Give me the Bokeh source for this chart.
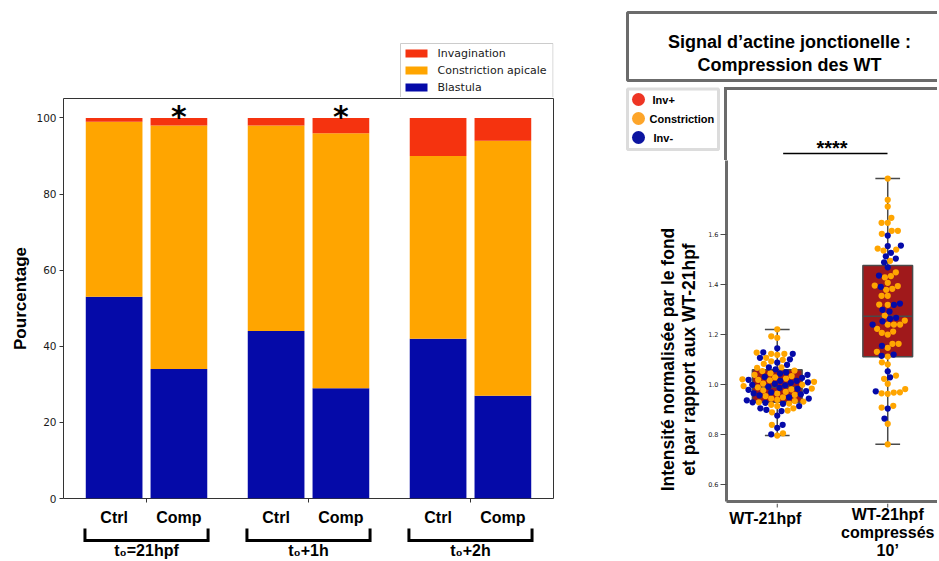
import math
from bokeh.plotting import figure
from bokeh.models import (Range1d, FixedTicker, PrintfTickFormatter, ColumnDataSource)
from bokeh.layouts import row, column
from bokeh.embed import file_html
from bokeh.resources import INLINE
from bokeh.core.properties import value

# ---------------- left panel data (stacked bars, %) ----------------
groups = ["t₀=21hpf", "t₀+1h", "t₀+2h"]
conditions = ["Ctrl", "Comp"]
series_names = ["Invagination", "Constriction apicale", "Blastula"]
blastula = [53, 34, 44, 29, 42, 27]
constriction = [46, 64, 54, 67, 48, 67]
invagination = [1, 2, 2, 4, 10, 6]
significance = ["", "*", "", "*", "", ""]
ytick_bars = [0, 20, 40, 60, 80, 100]

# ---------------- right panel data (box + swarm) ----------------
title_lines = ["Signal d’actine jonctionelle :", "Compression des WT"]
yaxis_lines = ["Intensité normalisée par le fond", "et par rapport aux WT-21hpf"]
box_categories = ["WT-21hpf", "WT-21hpf\ncompressés\n10’"]
legend_right_labels = ["Inv+", "Constriction", "Inv-"]
ytick_right = [0.6, 0.8, 1.0, 1.2, 1.4, 1.6]
sig_right = "****"

wt_orange = [1.222, 1.194, 1.188, 1.129, 1.124, 1.124, 1.120, 1.108, 1.100, 1.094,
             1.084, 1.070, 1.068, 1.057, 1.055, 1.046, 1.040, 1.035, 1.030, 1.025,
             1.022, 1.020, 1.018, 1.012, 1.005, 1.000, 0.995, 0.990, 0.985, 0.982,
             0.978, 0.972, 0.965, 0.960, 0.955, 0.950, 0.945, 0.940, 0.935, 0.933,
             0.930, 0.925, 0.920, 0.915, 0.906, 0.897, 0.890, 0.840, 0.806, 0.797]
wt_blue = [1.146, 1.130, 1.124, 1.108, 1.102, 1.089, 1.080, 1.070, 1.062, 1.050,
           1.045, 1.040, 1.032, 1.028, 1.020, 1.016, 1.016, 1.010, 1.008, 1.004,
           1.000, 0.998, 0.992, 0.988, 0.984, 0.980, 0.975, 0.970, 0.966, 0.962,
           0.958, 0.950, 0.945, 0.938, 0.930, 0.928, 0.924, 0.915, 0.906, 0.900,
           0.895, 0.877, 0.840, 0.828, 0.802]
comp_orange = [1.825, 1.740, 1.713, 1.668, 1.648, 1.648, 1.616, 1.616, 1.604, 1.545,
               1.541, 1.537, 1.496, 1.450, 1.435, 1.430, 1.408, 1.397, 1.395, 1.384,
               1.380, 1.356, 1.356, 1.321, 1.320, 1.277, 1.257, 1.241, 1.241, 1.241,
               1.224, 1.213, 1.208, 1.201, 1.164, 1.164, 1.148, 1.132, 1.113, 1.090,
               1.082, 1.037, 1.024, 1.004, 0.983, 0.970, 0.969, 0.966, 0.964, 0.916,
               0.909, 0.844, 0.762]
comp_blue = [1.597, 1.557, 1.555, 1.528, 1.514, 1.505, 1.490, 1.470, 1.437, 1.392,
             1.325, 1.320, 1.300, 1.293, 1.268, 1.264, 1.254, 1.241, 1.156, 1.121,
             1.116, 1.054, 1.030, 0.974, 0.905, 0.865]
box_q1 = [0.930, 1.112]
box_med = [0.990, 1.274]
box_q3 = [1.060, 1.477]
whisk_lo = [0.797, 0.762]
whisk_hi = [1.221, 1.825]

# ---------------- styles ----------------
RED = "#f5330f"
ORANGE = "#ffa500"
BLUE = "#050aa8"
LEG_RED = "#ee3524"
LEG_ORANGE = "#fda52a"
LEG_BLUE = "#0c14a0"
BOXRED = "#a0191b"
GREY = "#6b6b6b"
GREYD = "#4a4a4a"
SANS = "Liberation Sans"
MPL = "DejaVu Sans"
W_LEFT, W_RIGHT, H_TOTAL = 600, 337, 559
P1_L, P1_R = 63, 553          # bar-chart frame, page pixels


def plain(fig):
    fig.outline_line_color = None
    fig.background_fill_color = "white"
    fig.border_fill_color = "white"
    return fig


def deco(width, height, xr, yr, **kw):
    # page-coordinate helper figure (no axes) for frames, brackets, boxes
    opts = dict(min_border=0)
    opts.update(kw)
    return plain(figure(width=width, height=height, x_range=xr, y_range=yr,
                        output_backend="svg", toolbar_location=None,
                        x_axis_type=None, y_axis_type=None, **opts))


# =============== LEFT: legend strip above the bars ===============
leg_left = deco(W_LEFT, 97, Range1d(P1_L, P1_R), Range1d(97, 0),
                min_border_left=P1_L, min_border_right=W_LEFT - P1_R)
leg_rows = [53, 70, 87]
leg_left.quad(left=[400], right=[552.5], top=[43], bottom=[97], fill_color="white",
              line_color="#cccccc", line_width=1)
leg_left.quad(left=[405] * 3, right=[427] * 3, top=[r - 4 for r in leg_rows],
              bottom=[r + 4 for r in leg_rows], fill_color=[RED, ORANGE, BLUE], line_color=None)
leg_left.text(x=[437] * 3, y=leg_rows, text=series_names, text_font=value(MPL),
              text_font_size="11px", text_align="left", text_baseline="middle",
              text_color="#1a1a1a")

# =============== LEFT: stacked bar chart ===============
n_groups = len(groups)
offsets = [-0.2, 0.2]
bar_x = [g + o for g in range(n_groups) for o in offsets]
bar_labels = [c for _ in groups for c in conditions]
top_co = [b + c for b, c in zip(blastula, constriction)]
top_in = [t + i for t, i in zip(top_co, invagination)]
src = ColumnDataSource(dict(x=bar_x, zero=[0] * len(bar_x), bl=blastula, co=top_co,
                            inv=top_in, sig=significance))

p1 = figure(width=W_LEFT, height=431, x_range=Range1d(-0.5125, 2.5125), y_range=Range1d(0, 105.1),
            output_backend="svg", toolbar_location=None,
            min_border_left=P1_L, min_border_right=W_LEFT - P1_R, min_border_top=1,
            min_border_bottom=27)
p1.xgrid.visible = False
p1.ygrid.visible = False
p1.outline_line_color = "#333333"
p1.outline_line_width = 1
p1.background_fill_color = "white"
p1.border_fill_color = "white"

p1.vbar(x="x", bottom="zero", top="bl", width=0.35, source=src, fill_color=BLUE, line_color=None)
p1.vbar(x="x", bottom="bl", top="co", width=0.35, source=src, fill_color=ORANGE, line_color=None)
p1.vbar(x="x", bottom="co", top="inv", width=0.35, source=src, fill_color=RED, line_color=None)
p1.text(x="x", y="inv", text="sig", source=src, text_font=value(MPL), text_font_style="bold",
        text_font_size="30px", text_align="center", text_baseline="top", y_offset=-19,
        text_color="black")

xa = p1.xaxis[0]
xa.ticker = FixedTicker(ticks=bar_x, minor_ticks=list(range(n_groups)))
xa.major_label_overrides = {x: lab for x, lab in zip(bar_x, bar_labels)}
xa.major_tick_out = 0
xa.major_tick_in = 0
xa.minor_tick_out = 4
xa.minor_tick_in = 0
xa.minor_tick_line_color = "#333333"
xa.axis_line_color = None
xa.major_label_standoff = 6
xa.major_label_text_font = SANS
xa.major_label_text_font_style = "bold"
xa.major_label_text_font_size = "16px"
xa.major_label_text_color = "black"

ya = p1.yaxis[0]
ya.ticker = FixedTicker(ticks=ytick_bars)
ya.major_tick_out = 4
ya.major_tick_in = 0
ya.minor_tick_out = 0
ya.minor_tick_in = 0
ya.major_tick_line_color = "#333333"
ya.axis_line_color = None
ya.major_label_text_font = MPL
ya.major_label_text_font_size = "10.5px"
ya.major_label_text_color = "#1a1a1a"
ya.major_label_standoff = 3
ya.axis_label = "Pourcentage"
ya.axis_label_text_font = SANS
ya.axis_label_text_font_style = "bold"
ya.axis_label_text_font_size = "17px"
ya.axis_label_text_color = "black"
ya.axis_label_standoff = 3

# brackets + group labels under the bar chart
pb = deco(W_LEFT, H_TOTAL - 528, p1.x_range, Range1d(H_TOTAL, 528),
          min_border_left=P1_L, min_border_right=W_LEFT - P1_R, min_border_top=0,
          min_border_bottom=0)
half = 0.38
pb.multi_line(xs=[[g - half, g - half, g + half, g + half] for g in range(n_groups)],
              ys=[[527, 540, 540, 527] for _ in range(n_groups)],
              line_color="black", line_width=3, line_join="miter")
pb.text(x=list(range(n_groups)), y=[541] * n_groups, text=groups, text_font=value(SANS),
        text_font_style="bold", text_font_size="16px", text_align="center", text_baseline="top",
        text_color="black")

left_col = column(leg_left, p1, pb)

# =============== RIGHT: title box ===============
title_fig = deco(W_RIGHT, 84, Range1d(600, 600 + W_RIGHT), Range1d(84, 0))
title_fig.quad(left=[627], right=[1000], top=[12], bottom=[80], fill_color="white",
               line_color=GREY, line_width=3)
title_fig.text(x=[789, 789], y=[41.5, 64], text=title_lines, text_font=value(SANS),
               text_font_style="bold", text_font_size="18px", text_align="center",
               text_baseline="alphabetic", text_color="black")

# ---- geometry of the box/swarm plot (page pixels) ----
FRAME_L, FRAME_R = 725, 600 + W_RIGHT
SPLIT = 160            # p2top above, p2 below
FRAME_B = 501
XPPU, YPPU = 111.0, 250.0
P2_X0 = -(776 - FRAME_L) / XPPU
P2_X1 = P2_X0 + (FRAME_R - FRAME_L) / XPPU
P2_YLO = 1.0 + (384.3 - FRAME_B) / YPPU
P2_YHI = 1.0 + (384.3 - SPLIT) / YPPU

# top part: legend box, frame top, significance bar
p2top = deco(W_RIGHT, SPLIT - 84, Range1d(600, 600 + W_RIGHT), Range1d(SPLIT, 84))
p2top.extra_x_ranges = {"cat": Range1d(P2_X0 - (FRAME_L - 600) / XPPU, P2_X1)}
p2top.quad(left=[627], right=[718], top=[88.5], bottom=[149], fill_color="white",
           line_color="#dcdcdc", line_width=3)
leg_y = [99, 118, 137]
p2top.scatter(x=[638, 638, 638], y=leg_y, size=13,
              fill_color=[LEG_RED, LEG_ORANGE, LEG_BLUE], line_color=None)
p2top.text(x=[652, 649, 653], y=leg_y, text=legend_right_labels, text_font=value(SANS),
           text_font_style="bold", text_font_size="11px", text_align="left",
           text_baseline="middle", text_color="black")
p2top.segment(x0=[FRAME_L, FRAME_L], y0=[88, 88], x1=[1000, FRAME_L], y1=[88, SPLIT + 5],
              line_color=GREY, line_width=3, line_cap="square")
p2top.segment(x0=[0.06], y0=[153], x1=[1.0], y1=[153], x_range_name="cat",
              line_color="black", line_width=1.5)
p2top.text(x=[0.5], y=[153], text=[sig_right], x_range_name="cat", text_font=value(SANS),
           text_font_style="bold", text_font_size="20px", text_align="center",
           text_baseline="alphabetic", y_offset=-6, text_color="black")

# main box/swarm plot
p2 = figure(width=600 + W_RIGHT - 705, height=503 - SPLIT,
            x_range=Range1d(P2_X0, P2_X1), y_range=Range1d(P2_YLO, P2_YHI),
            output_backend="svg", toolbar_location=None,
            min_border_left=FRAME_L - 705, min_border_right=0, min_border_top=0, min_border_bottom=2)
p2.xgrid.visible = False
p2.ygrid.visible = False
p2.outline_line_color = None
p2.background_fill_color = "white"
p2.border_fill_color = "white"

yax = p2.yaxis[0]
yax.ticker = FixedTicker(ticks=ytick_right)
yax.formatter = PrintfTickFormatter(format="%.1f")
yax.major_tick_out = 6
yax.major_tick_in = 0
yax.minor_tick_out = 0
yax.minor_tick_in = 0
yax.major_tick_line_color = GREYD
yax.axis_line_color = GREY
yax.axis_line_width = 3
yax.major_label_text_font = MPL
yax.major_label_text_font_size = "6.5px"
yax.major_label_text_color = "#222222"
yax.major_label_standoff = 2

xax = p2.xaxis[0]
xax.ticker = FixedTicker(ticks=[])
xax.major_tick_out = 0
xax.major_tick_in = 0
xax.minor_tick_out = 0
xax.minor_tick_in = 0
xax.major_label_standoff = 0
xax.axis_line_color = GREY
xax.axis_line_width = 3

cats = list(range(len(box_categories)))
bsrc = ColumnDataSource(dict(x=cats, q1=box_q1, med=box_med, q3=box_q3, lo=whisk_lo, hi=whisk_hi,
                             capl=[c - 0.112 for c in cats], capr=[c + 0.112 for c in cats],
                             bl=[c - 0.225 for c in cats], br=[c + 0.225 for c in cats]))
p2.segment(x0="x", y0="lo", x1="x", y1="q1", source=bsrc, line_color=GREYD, line_width=1.5)
p2.segment(x0="x", y0="q3", x1="x", y1="hi", source=bsrc, line_color=GREYD, line_width=1.5)
p2.segment(x0="capl", y0="lo", x1="capr", y1="lo", source=bsrc, line_color=GREYD, line_width=1.5)
p2.segment(x0="capl", y0="hi", x1="capr", y1="hi", source=bsrc, line_color=GREYD, line_width=1.5)
p2.vbar(x="x", bottom="q1", top="q3", width=0.45, source=bsrc, fill_color=BOXRED,
        line_color=GREYD, line_width=1.5)
p2.segment(x0="bl", y0="med", x1="br", y1="med", source=bsrc, line_color=GREYD, line_width=1.5)

DOT = 6.2


def swarm_offsets(vals, d):
    # deterministic beeswarm layout (pixel space) from the values themselves
    order = sorted(range(len(vals)), key=lambda i: vals[i])
    placed = []
    offs = [0.0] * len(vals)
    for i in order:
        y = vals[i] * YPPU
        near = [(px, py) for px, py in placed if abs(py - y) < d]
        cands = [0.0]
        for px, py in near:
            dx = math.sqrt(d * d - (py - y) ** 2)
            cands.extend([px + dx, px - dx])
        cands.sort(key=lambda c: (abs(c), c))
        chosen = cands[-1]
        for c in cands:
            if all((c - px) ** 2 + (y - py) ** 2 >= d * d - 1e-6 for px, py in near):
                chosen = c
                break
        placed.append((chosen, y))
        offs[i] = chosen / XPPU
    return offs


pts_x, pts_y, pts_c = [], [], []
for ci, (orng, blu) in enumerate([(wt_orange, wt_blue), (comp_orange, comp_blue)]):
    vals = orng + blu
    cols = [ORANGE] * len(orng) + [BLUE] * len(blu)
    offs = swarm_offsets(vals, DOT)
    pts_x += [ci + o for o in offs]
    pts_y += vals
    pts_c += cols
p2.scatter(x=pts_x, y=pts_y, size=DOT, fill_color=pts_c, line_color=None)

# category tick marks + labels below p2
p2lab = deco(600 + W_RIGHT - 705, H_TOTAL - 503, p2.x_range, Range1d(H_TOTAL, 503),
             min_border_left=FRAME_L - 705, min_border_right=0, min_border_top=0,
             min_border_bottom=0)
p2lab.segment(x0=cats, y0=[503] * len(cats), x1=cats, y1=[507] * len(cats),
              line_color=GREYD, line_width=1)
lab_dx = [-12, 0]
lab_dy = [4, 0]
p2lab.text(x=cats, y=[505] * len(cats), text=box_categories, x_offset=lab_dx, y_offset=lab_dy,
           text_font=value(SANS), text_font_style="bold", text_font_size="16px",
           text_align="center", text_baseline="top", text_line_height=1.06, text_color="black")

# strip left of p2: rotated y-axis title
strip = deco(705 - 600, H_TOTAL - SPLIT, Range1d(600, 705), Range1d(FRAME_B, SPLIT),
             min_border_bottom=H_TOTAL - FRAME_B)
strip.text(x=[667, 688], y=[359, 359], text=yaxis_lines, angle=math.pi / 2,
           text_font=value(SANS), text_font_style="bold", text_font_size="17.5px",
           text_align="center", text_baseline="middle", text_color="black")

right_col = column(title_fig, p2top, row(strip, column(p2, p2lab)))
layout = row(left_col, right_col)

open("out.html", "w").write(file_html(layout, INLINE))
